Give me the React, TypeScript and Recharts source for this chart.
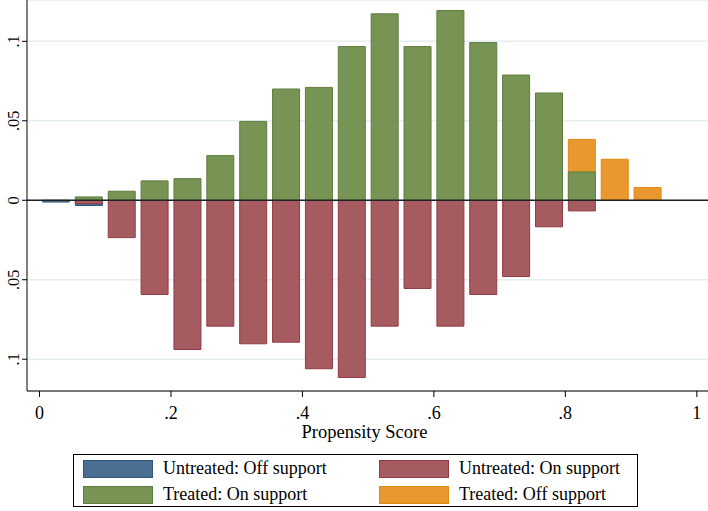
import { ComposedChart, Bar, XAxis, YAxis, CartesianGrid, ReferenceLine } from 'recharts';

// bin midpoints of the propensity score histogram
const binCenters = [0.025, 0.075, 0.125, 0.175, 0.225, 0.275, 0.325, 0.375, 0.425, 0.475,
  0.525, 0.575, 0.625, 0.675, 0.725, 0.775, 0.825, 0.875, 0.925];

const treatedOn = [null, 0.0021, 0.0057, 0.0122, 0.0136, 0.0281, 0.0496, 0.070, 0.071, 0.0967,
  0.1173, 0.0967, 0.1194, 0.0992, 0.0788, 0.0675, 0.0178, null, null];
const treatedOff = [null, null, null, null, null, null, null, null, null, null,
  null, null, null, null, null, null, 0.0383, 0.0258, 0.008];
const untreatedOn = [null, -0.0021, -0.0235, -0.0593, -0.0939, -0.0792, -0.0903, -0.0893, -0.106, -0.1115,
  -0.0792, -0.0555, -0.0792, -0.0593, -0.048, -0.0167, -0.0067, null, null];
const untreatedOff = [-0.0011, -0.0033, null, null, null, null, null, null, null, null,
  null, null, null, null, null, null, null, null, null];

const xTicks = [0, 0.2, 0.4, 0.6, 0.8, 1];
const yTicks = [-0.1, -0.05, 0, 0.05, 0.1];

const data = binCenters.map((x, i) => ({
  x,
  treatedOn: treatedOn[i],
  treatedOff: treatedOff[i],
  untreatedOn: untreatedOn[i],
  untreatedOff: untreatedOff[i],
}));

const serif = '"Liberation Serif", "Times New Roman", serif';

// stata style labels: no leading zero, no minus sign on the lower half
const fmt = (v: number) => {
  const a = Math.abs(v);
  if (a === 0) return '0';
  if (a === 1) return '1';
  return String(a).replace(/^0/, '');
};

const YTick = ({ y, payload }: any) => (
  <text
    x={19}
    y={y}
    transform={`rotate(-90, 19, ${y})`}
    textAnchor="middle"
    fontSize={16.5}
    fontFamily={serif}
    fill="#000"
  >
    {fmt(payload.value)}
  </text>
);

const colors = {
  untreatedOff: { fill: '#4b6f92', stroke: '#2f5678' },
  untreatedOn: { fill: '#a65b61', stroke: '#913b46' },
  treatedOn: { fill: '#779455', stroke: '#5f7d3d' },
  treatedOff: { fill: '#e9982f', stroke: '#e08a12' },
};

const legendItems = [
  { key: 'untreatedOff', label: 'Untreated: Off support', left: 9, top: 4 },
  { key: 'untreatedOn', label: 'Untreated: On support', left: 305, top: 4 },
  { key: 'treatedOn', label: 'Treated: On support', left: 9, top: 30 },
  { key: 'treatedOff', label: 'Treated: Off support', left: 305, top: 30 },
];

const xDomain = [-0.019, 1.017];

export default function App() {
  return (
    <div style={{ position: 'absolute', left: 0, top: 0, width: 708, height: 511, background: '#fff' }}>
      <ComposedChart
        width={708}
        height={511}
        data={data}
        margin={{ top: 0, right: 0, bottom: 0, left: 0 }}
      >
        <CartesianGrid xAxisId="main" vertical={false} stroke="#e5eef0" strokeWidth={1.5} />
        <XAxis xAxisId="b" type="number" dataKey="x" domain={xDomain} allowDataOverflow hide height={0} />
        <XAxis xAxisId="c" type="number" dataKey="x" domain={xDomain} allowDataOverflow hide height={0} />
        <XAxis xAxisId="d" type="number" dataKey="x" domain={xDomain} allowDataOverflow hide height={0} />
        <XAxis
          xAxisId="main"
          type="number"
          dataKey="x"
          domain={xDomain}
          allowDataOverflow
          ticks={xTicks}
          tickFormatter={fmt}
          height={120}
          tickSize={6}
          tickMargin={9}
          stroke="#000"
          tick={{ fontSize: 18, fontFamily: serif, fill: '#000' }}
          label={{
            value: 'Propensity Score',
            position: 'insideTop',
            offset: 34,
            dx: -3,
            style: { fontSize: 18.5, fontFamily: serif, fill: '#000' },
          }}
        />
        <YAxis
          type="number"
          domain={[-0.12, 0.126]}
          allowDataOverflow
          ticks={yTicks}
          width={27}
          tickSize={5}
          stroke="#000"
          tick={<YTick />}
        />
        <Bar xAxisId="b" dataKey="untreatedOff" barSize={27} fill={colors.untreatedOff.fill}
          stroke={colors.untreatedOff.stroke} isAnimationActive={false} />
        <Bar xAxisId="c" dataKey="treatedOff" barSize={27} fill={colors.treatedOff.fill}
          stroke={colors.treatedOff.stroke} isAnimationActive={false} />
        <Bar xAxisId="d" dataKey="untreatedOn" barSize={27} fill={colors.untreatedOn.fill}
          stroke={colors.untreatedOn.stroke} isAnimationActive={false} />
        <Bar xAxisId="main" dataKey="treatedOn" barSize={27} fill={colors.treatedOn.fill}
          stroke={colors.treatedOn.stroke} isAnimationActive={false} />
        <ReferenceLine xAxisId="main" y={0} stroke="#222" strokeWidth={1.3} />
      </ComposedChart>

      <div
        style={{
          position: 'absolute',
          left: 73,
          top: 454,
          width: 563,
          height: 51,
          border: '1px solid #000',
          fontFamily: serif,
          fontSize: 18,
          color: '#000',
        }}
      >
        {legendItems.map((it) => {
          const c = (colors as any)[it.key];
          return (
            <div key={it.key} style={{ position: 'absolute', left: it.left, top: it.top, height: 19, display: 'flex', alignItems: 'center', whiteSpace: 'nowrap' }}>
              <div style={{ width: 68, height: 16, background: c.fill, border: `1px solid ${c.stroke}`, marginRight: 10 }} />
              <span style={{ lineHeight: '19px' }}>{it.label}</span>
            </div>
          );
        })}
      </div>
    </div>
  );
}
